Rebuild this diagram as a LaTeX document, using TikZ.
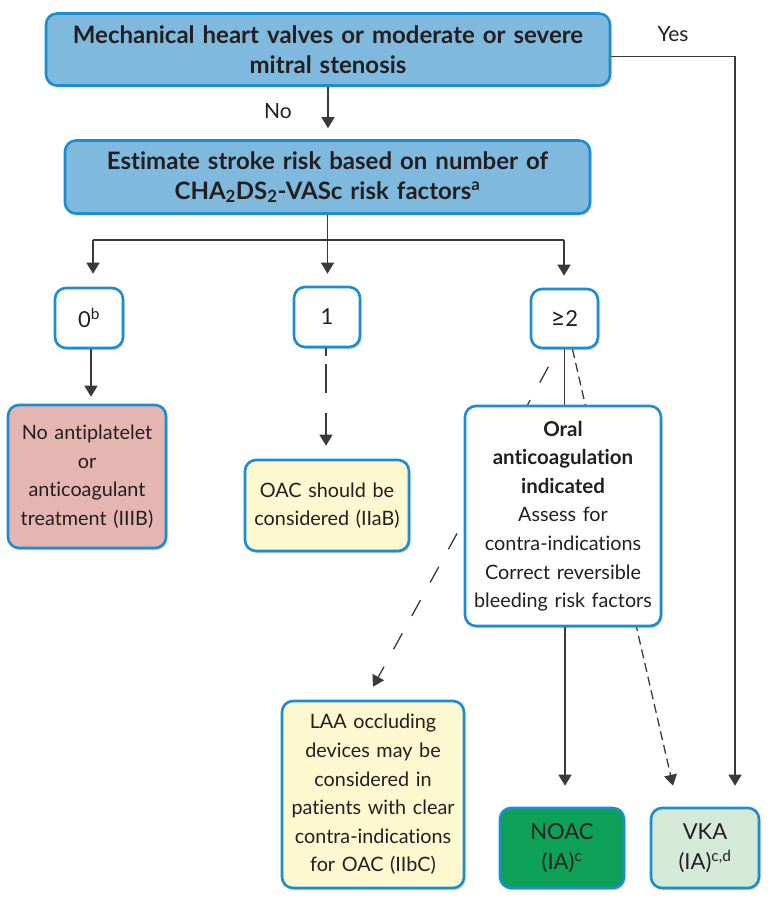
\documentclass[tikz,border=0pt]{standalone}
\usepackage{fontspec}
\setmainfont{Lato}[Ligatures=NoCommon]
\usetikzlibrary{arrows.meta,shadows,backgrounds,calc}
\definecolor{bblue}{RGB}{27,141,208}
\definecolor{lblue}{RGB}{128,185,222}
\definecolor{redf}{RGB}{229,182,177}
\definecolor{yelf}{RGB}{253,248,207}
\definecolor{noacf}{RGB}{13,160,87}
\definecolor{vkaf}{RGB}{212,233,216}
\definecolor{txt}{RGB}{35,31,32}
\definecolor{linec}{RGB}{58,58,58}
\newcommand{\bodybold}[1]{{\fontsize{20.5}{28.6}\selectfont\bfseries #1}}
\begin{document}
\begin{tikzpicture}[x=1pt,y=-1pt,
  box/.style={draw=bblue, line width=2.6pt, rounded corners=11pt, align=center,
    inner sep=0pt, text=txt, fill=white,
    drop shadow={shadow xshift=1.5pt, shadow yshift=-2pt, opacity=0.18, fill=black}},
  bigtxt/.style={font=\fontsize{24}{30}\selectfont\bfseries},
  body/.style={font=\fontsize{19.8}{28.6}\selectfont},
  numtxt/.style={font=\fontsize{22}{26}\selectfont},
  conn/.style={draw=linec, line width=1.3pt},
  arr/.style={conn, -{Triangle[width=13pt,length=11pt]}},
  lbl/.style={text=txt, font=\fontsize{21}{24}\selectfont, inner sep=0pt}
]
\useasboundingbox (0,0) rectangle (768,917);

\node[box, bigtxt, fill=lblue, minimum width=564, minimum height=72, text width=548]
  (top) at (328,49.5) {Mechanical heart valves or moderate or severe\\ mitral stenosis};
\node[box, bigtxt, fill=lblue, minimum width=525, minimum height=73, text width=510]
  (est) at (327.5,177) {Estimate stroke risk based on number of\\ CHA\textsubscript{2}DS\textsubscript{2}-VASc risk factors\textsuperscript{a}};

\node[box, numtxt, minimum width=68, minimum height=60] (n0) at (89,318) {0\textsuperscript{b}};
\node[box, numtxt, minimum width=66, minimum height=60] (n1) at (327,317) {1};
\node[box, numtxt, minimum width=67, minimum height=59] (n2) at (564.5,318.5) {{\fontsize{25}{26}\selectfont ≥}2};

\node[box, body, fill=redf, minimum width=158, minimum height=143, text width=152]
  (red) at (87,476.5) {No antiplatelet\\ or\\ anticoagulant\\ treatment (IIIB)};
\node[box, body, fill=yelf, minimum width=164, minimum height=91, text width=158]
  (oacy) at (327,505.5) {OAC should be\\ considered (IIaB)};
\node[box, body, minimum width=196, minimum height=220, text width=192]
  (oral) at (563,516) {\bodybold{Oral}\\ \bodybold{anticoagulation}\\ \bodybold{indicated}\\ Assess for\\ contra-indications\\ Correct reversible\\ bleeding risk factors};
\node[box, body, fill=yelf, minimum width=182, minimum height=187, text width=178]
  (laa) at (373,794.5) {LAA occluding\\ devices may be\\ considered in\\ patients with clear\\ contra-indications\\ for OAC (IIbC)};
\node[box, fill=noacf, minimum width=124, minimum height=80, text width=118,
  font=\fontsize{22}{30}\selectfont]
  (noac) at (562,848) {NOAC\\ (IA)\textsuperscript{c}};
\node[box, fill=vkaf, minimum width=108, minimum height=80, text width=104,
  font=\fontsize{22}{30}\selectfont]
  (vka) at (705,848) {VKA\\ (IA)\textsuperscript{c,d}};

\node[lbl] (yes) at (673,34) {Yes};
\node[lbl] (no) at (278,111) {No};

\coordinate (stem) at (327.5,240);
\coordinate (bl) at (93,240);
\coordinate (bm) at (327.5,240);
\coordinate (br) at (564,240);

\begin{scope}[on background layer]
  \draw[arr] (top.south) -- (top.south |- est.north) [shorten >=11pt];
  \draw[arr, shorten >=21pt] ([yshift=-7pt]top.east) -| ([xshift=30pt]vka.north);
  \draw[conn] (est.south) -- (stem);
  \draw[conn] (bl) -- (br);
  \draw[arr, shorten >=13pt] (bl) -- (bl |- n0.north);
  \draw[arr, shorten >=12pt] (bm) -- (bm |- n1.north);
  \draw[arr, shorten >=12pt] (br) -- (br |- n2.north);
  \draw[arr, shorten >=7pt] ([xshift=2pt]n0.south) -- ([xshift=2pt]n0.south |- red.north);
  \draw[arr, shorten >=13pt, dash pattern=on 8pt off 8pt on 29pt off 20pt on 60pt off 0pt]
    ([xshift=-1pt]n1.south) -- ([xshift=-1pt]n1.south |- oacy.north);
  \draw[conn] (n2.south) -- (n2.south |- oral.north);
  \draw[arr, dash pattern=on 18pt off 20pt, dash phase=18pt]
    ([xshift=-6.5pt]n2.south) -- ([yshift=13pt]laa.north);
  \draw[arr, dash pattern=on 9pt off 5pt]
    ([xshift=8pt]n2.south) -- ([xshift=-32pt,yshift=21pt]vka.north);
  \draw[arr, shorten >=21pt] ([xshift=2pt]oral.south) -- ([xshift=2pt]oral.south |- noac.north);
\end{scope}
\end{tikzpicture}
\end{document}
